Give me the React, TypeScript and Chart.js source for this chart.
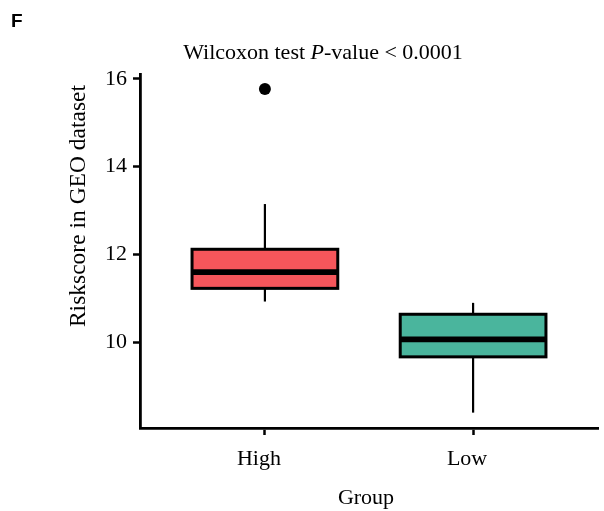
import { useEffect, useRef } from 'react';
import { Chart, registerables } from 'chart.js';

Chart.register(...registerables);

// Box plot summary per risk group
const groups = ['High', 'Low'];
const lowerWhisker = [10.93, 8.4];
const lowerQuartile = [11.23, 9.67];
const medians = [11.6, 10.07];
const upperQuartile = [12.12, 10.64];
const upperWhisker = [13.15, 10.9];

// Points beyond the whiskers
const outlierGroup = [1];
const outlierValues = [15.77];

const yTickValues = [10, 12, 14, 16];
const boxFills = ['#F6565B', '#4AB59D'];

const SERIF = '"Liberation Serif", "Times New Roman", serif';
const BOX_HALF_WIDTH = 0.35;

const boxPlugin = {
  id: 'boxes',
  beforeDatasetsDraw(chart: any) {
    const { ctx } = chart;
    const x = chart.scales.x;
    const y = chart.scales.y;
    ctx.save();
    groups.forEach((_, i) => {
      const c = i + 1;
      const cx = x.getPixelForValue(c);
      const left = x.getPixelForValue(c - BOX_HALF_WIDTH);
      const right = x.getPixelForValue(c + BOX_HALF_WIDTH);
      const top = y.getPixelForValue(upperQuartile[i]);
      const bottom = y.getPixelForValue(lowerQuartile[i]);
      const mid = y.getPixelForValue(medians[i]);

      // whisker
      ctx.strokeStyle = '#000';
      ctx.lineWidth = 2.2;
      ctx.lineCap = 'butt';
      ctx.beginPath();
      ctx.moveTo(cx, y.getPixelForValue(upperWhisker[i]));
      ctx.lineTo(cx, y.getPixelForValue(lowerWhisker[i]));
      ctx.stroke();

      // box
      ctx.fillStyle = boxFills[i];
      ctx.fillRect(left, top, right - left, bottom - top);
      ctx.lineWidth = 3;
      ctx.lineJoin = 'miter';
      ctx.strokeRect(left, top, right - left, bottom - top);

      // median
      ctx.lineWidth = 5.8;
      ctx.beginPath();
      ctx.moveTo(left, mid);
      ctx.lineTo(right, mid);
      ctx.stroke();
    });
    ctx.restore();
  },
};

const textPlugin = {
  id: 'labels',
  afterDraw(chart: any) {
    const { ctx } = chart;
    ctx.save();
    ctx.fillStyle = '#000';

    // panel letter
    ctx.font = 'bold 19px "Liberation Sans", Arial, sans-serif';
    ctx.textAlign = 'left';
    ctx.textBaseline = 'alphabetic';
    ctx.fillText('F', 11, 27);

    // title with italic P
    const normal = `22px ${SERIF}`;
    const italic = `italic 22px ${SERIF}`;
    const partA = 'Wilcoxon test ';
    const partB = 'P';
    const partC = '-value < 0.0001';
    ctx.font = normal;
    const wA = ctx.measureText(partA).width;
    const wC = ctx.measureText(partC).width;
    ctx.font = italic;
    const wB = ctx.measureText(partB).width;
    let tx = 323 - (wA + wB + wC) / 2;
    const ty = 59;
    ctx.font = normal;
    ctx.fillText(partA, tx, ty);
    tx += wA;
    ctx.font = italic;
    ctx.fillText(partB, tx, ty);
    tx += wB;
    ctx.font = normal;
    ctx.fillText(partC, tx, ty);

    // x axis title
    ctx.font = `22px ${SERIF}`;
    ctx.textAlign = 'center';
    ctx.fillText('Group', 366, 504);

    // y axis title
    ctx.translate(85, 206);
    ctx.rotate(-Math.PI / 2);
    ctx.font = `23.5px ${SERIF}`;
    ctx.textAlign = 'center';
    ctx.fillText('Riskscore in GEO dataset', 0, 0);
    ctx.restore();
  },
};

export default function App() {
  const canvasRef = useRef<HTMLCanvasElement | null>(null);

  useEffect(() => {
    const canvas = canvasRef.current;
    if (!canvas) return;
    const outliers = outlierValues.map((v, i) => ({ x: outlierGroup[i], y: v }));
    const chart = new Chart(canvas, {
      type: 'scatter',
      data: {
        datasets: [
          {
            data: outliers,
            pointRadius: 6,
            pointBackgroundColor: '#000',
            pointBorderWidth: 0,
            pointHoverRadius: 6,
          },
        ],
      },
      options: {
        responsive: false,
        animation: false,
        events: [],
        layout: { padding: { top: 74.5, right: 3, bottom: 0, left: 0 } },
        plugins: {
          legend: { display: false },
          tooltip: { enabled: false },
          title: { display: false },
        },
        scales: {
          x: {
            type: 'linear',
            min: 0.4,
            max: 2.6,
            bounds: 'data',
            afterBuildTicks: (scale: any) => {
              scale.ticks = groups.map((_, i) => ({ value: i + 1 }));
            },
            afterFit: (scale: any) => {
              scale.height = 83;
            },
            ticks: {
              autoSkip: false,
              maxRotation: 0,
              padding: 11,
              labelOffset: -6,
              color: '#000',
              font: { family: SERIF, size: 22 },
              callback: (v: any) => groups[Number(v) - 1] ?? '',
            },
            grid: {
              drawOnChartArea: false,
              drawTicks: true,
              tickLength: 7,
              tickWidth: 2.5,
              tickColor: '#000',
            },
            border: { display: true, color: '#000', width: 2.8 },
          },
          y: {
            type: 'linear',
            min: 8.05,
            max: 16.1,
            bounds: 'data',
            afterBuildTicks: (scale: any) => {
              scale.ticks = yTickValues.map((v) => ({ value: v }));
            },
            afterFit: (scale: any) => {
              scale.width = 140;
            },
            ticks: {
              padding: 6,
              color: '#000',
              font: { family: SERIF, size: 22 },
              callback: (v: any) => String(v),
            },
            grid: {
              drawOnChartArea: false,
              drawTicks: true,
              tickLength: 7,
              tickWidth: 2.5,
              tickColor: '#000',
            },
            border: { display: true, color: '#000', width: 2.8 },
          },
        },
      },
      plugins: [boxPlugin, textPlugin],
    });
    return () => chart.destroy();
  }, []);

  return (
    <canvas
      ref={canvasRef}
      width={604}
      height={511}
      style={{ position: 'absolute', left: 0, top: 0, width: 604, height: 511, background: '#fff' }}
    />
  );
}
